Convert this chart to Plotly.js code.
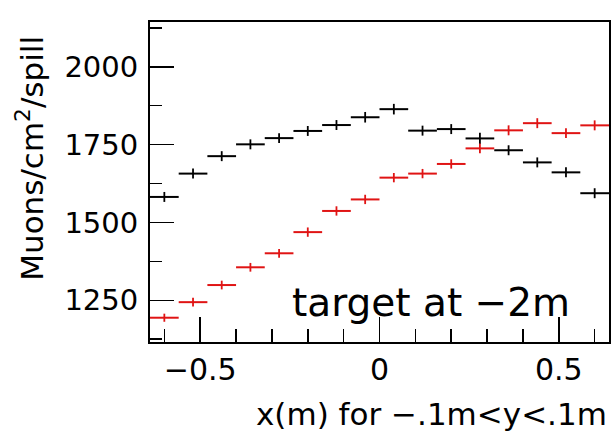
<!DOCTYPE html>
<html>
<head>
<meta charset="utf-8">
<script src="https://cdn.plot.ly/plotly-3.0.1.min.js"></script>
<style>html,body{margin:0;padding:0;background:#fff;}#plot{width:615px;height:433px;}</style>
</head>
<body>
<div id="plot"></div>
<script>
const binCenters = [-0.6, -0.52, -0.44, -0.36, -0.28, -0.2, -0.12, -0.04, 0.04, 0.12, 0.2, 0.28, 0.36, 0.44, 0.52, 0.6];
const binHalfWidth = [0.04, 0.04, 0.04, 0.04, 0.04, 0.04, 0.04, 0.04, 0.04, 0.04, 0.04, 0.04, 0.04, 0.04, 0.04, 0.04];
const blackValues = [1582, 1657, 1713, 1751, 1771, 1794, 1813, 1838, 1864, 1795, 1800, 1770, 1732, 1693, 1661, 1594];
const blackErrors = [16, 16, 16, 16, 16, 16, 16, 17, 17, 16, 16, 18, 16, 16, 16, 16];
const redValues = [1194, 1244, 1299, 1356, 1401, 1469, 1537, 1574, 1644, 1657, 1688, 1738, 1796, 1819, 1787, 1812];
const redErrors = [13, 14, 14, 14, 14, 15, 15, 15, 15, 15, 15, 16, 16, 16, 16, 16];
const yTickVals = [1250, 1500, 1750, 2000];
const yTickText = ['1250', '1500', '1750', '2000'];
const xTickVals = [-0.5, 0, 0.5];
const xTickText = ['\u22120.5', '0', '0.5'];

const FONT = 'DejaVu Sans';

function histTrace(y, err, color) {
  return {
    type: 'scatter', mode: 'markers', x: binCenters, y: y,
    marker: {size: 0.1, color: color},
    error_x: {type: 'data', array: binHalfWidth, visible: true, color: color, thickness: 2, width: 0},
    error_y: {type: 'data', array: err, visible: true, color: color, thickness: 1.8, width: 0},
    hoverinfo: 'skip', showlegend: false
  };
}

const data = [histTrace(blackValues, blackErrors, '#000000'), histTrace(redValues, redErrors, '#e01414')];

const layout = {
  width: 615, height: 433,
  margin: {l: 150, r: 6, t: 22, b: 91},
  paper_bgcolor: '#ffffff', plot_bgcolor: '#ffffff',
  showlegend: false,
  font: {family: FONT, color: '#000'},
  xaxis: {
    range: [-0.64, 0.64], tickvals: xTickVals, ticktext: xTickText,
    ticks: 'inside', ticklen: 25, tickwidth: 1.5, tickcolor: '#000',
    minor: {dtick: 0.1, tick0: 0, ticks: 'inside', ticklen: 13, tickwidth: 1.5, tickcolor: '#000'},
    showgrid: false, zeroline: false,
    showline: true, mirror: true, linecolor: '#000', linewidth: 2,
    tickfont: {family: FONT, size: 30, color: '#000'}
  },
  yaxis: {
    range: [1116, 2144], tickvals: yTickVals, ticktext: yTickText,
    ticks: 'inside', ticklen: 24, tickwidth: 1.5, tickcolor: '#000',
    minor: {dtick: 125, tick0: 0, ticks: 'inside', ticklen: 12, tickwidth: 1.5, tickcolor: '#000'},
    showgrid: false, zeroline: false,
    showline: true, mirror: true, linecolor: '#000', linewidth: 2,
    ticklabelstandoff: 4,
    tickfont: {family: FONT, size: 29, color: '#000'}
  },
  annotations: [
    {xref: 'paper', yref: 'paper', x: -0.262, y: 0.575, xanchor: 'center', yanchor: 'middle',
     text: 'Muons/cm<sup>2</sup>/spill', textangle: -90, showarrow: false,
     font: {family: FONT, size: 31, color: '#000'}},
    {xref: 'paper', yref: 'paper', x: 1, y: -0.225, xanchor: 'right', yanchor: 'middle',
     text: 'x(m) for \u2212.1m&lt;y&lt;.1m', showarrow: false,
     font: {family: FONT, size: 31, color: '#000'}},
    {xref: 'paper', yref: 'paper', x: 0.305, y: 0.125, xanchor: 'left', yanchor: 'middle',
     text: 'target at \u22122m', showarrow: false,
     font: {family: FONT, size: 39, color: '#000'}}
  ]
};

Plotly.newPlot('plot', data, layout, {staticPlot: true, displayModeBar: false});
</script>
</body>
</html>
